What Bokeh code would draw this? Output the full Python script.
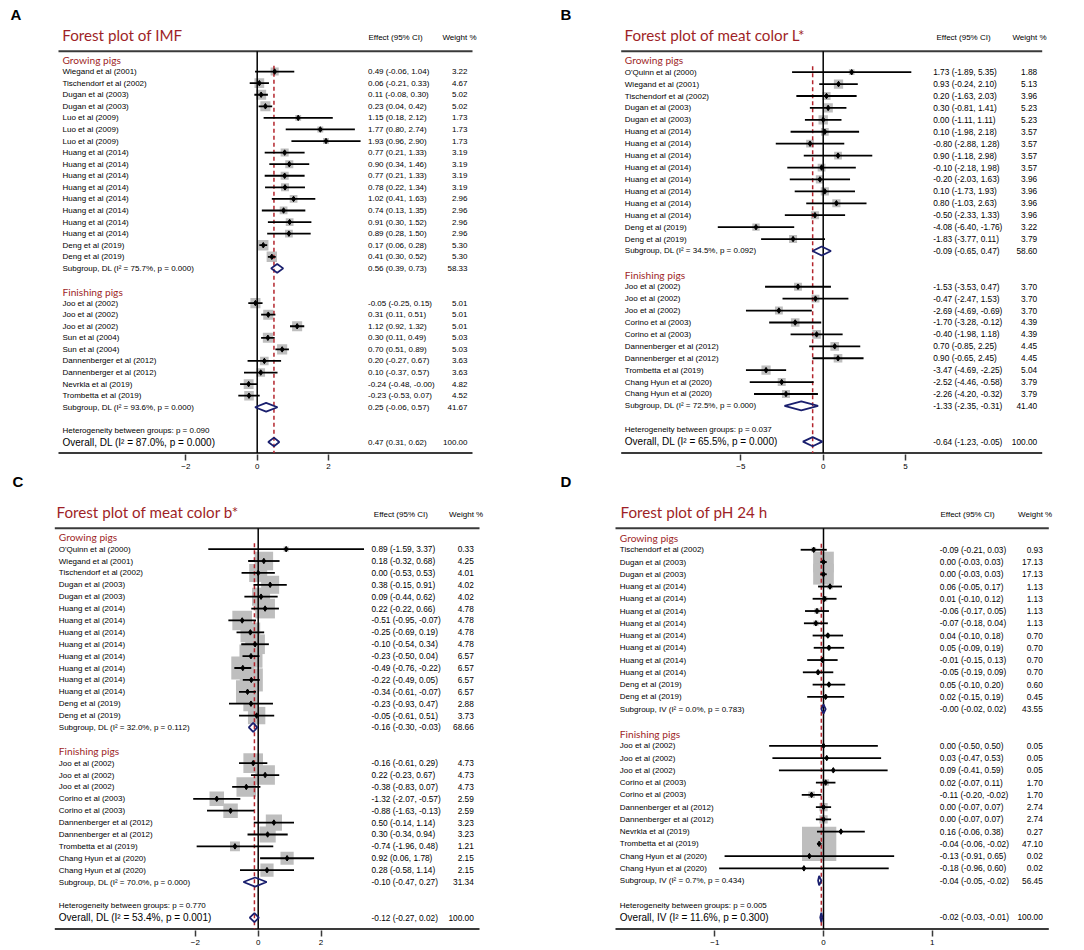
import math
from bokeh.plotting import figure
from bokeh.models import Range1d, FixedTicker, ColumnDataSource
from bokeh.layouts import column, row
from bokeh.embed import file_html
from bokeh.resources import INLINE
from bokeh.core.properties import value

G, F = "Growing pigs", "Finishing pigs"

# ---------------- Panel A : IMF ----------------
A_study = ["Wiegand et al (2001)", "Tischendorf et al (2002)", "Dugan et al (2003)", "Dugan et al (2003)",
           "Luo et al (2009)", "Luo et al (2009)", "Luo et al (2009)",
           "Huang et al (2014)", "Huang et al (2014)", "Huang et al (2014)", "Huang et al (2014)",
           "Huang et al (2014)", "Huang et al (2014)", "Huang et al (2014)", "Huang et al (2014)",
           "Deng et al (2019)", "Deng et al (2019)",
           "Joo et al (2002)", "Joo et al (2002)", "Joo et al (2002)", "Sun et al (2004)", "Sun et al (2004)",
           "Dannenberger et al (2012)", "Dannenberger et al (2012)", "Nevrkla et al (2019)", "Trombetta et al (2019)"]
A_group = [G] * 17 + [F] * 9
A_est = [0.49, 0.06, 0.11, 0.23, 1.15, 1.77, 1.93, 0.77, 0.90, 0.77, 0.78, 1.02, 0.74, 0.91, 0.89, 0.17, 0.41,
         -0.05, 0.31, 1.12, 0.30, 0.70, 0.20, 0.10, -0.24, -0.23]
A_lo = [-0.06, -0.21, -0.08, 0.04, 0.18, 0.80, 0.96, 0.21, 0.34, 0.21, 0.22, 0.41, 0.13, 0.30, 0.28, 0.06, 0.30,
        -0.25, 0.11, 0.92, 0.11, 0.51, -0.27, -0.37, -0.48, -0.53]
A_hi = [1.04, 0.33, 0.30, 0.42, 2.12, 2.74, 2.90, 1.33, 1.46, 1.33, 1.34, 1.63, 1.35, 1.52, 1.50, 0.28, 0.52,
        0.15, 0.51, 1.32, 0.49, 0.89, 0.67, 0.57, -0.00, 0.07]
A_wt = [3.22, 4.67, 5.02, 5.02, 1.73, 1.73, 1.73, 3.19, 3.19, 3.19, 3.19, 2.96, 2.96, 2.96, 2.96, 5.30, 5.30,
        5.01, 5.01, 5.01, 5.03, 5.03, 3.63, 3.63, 4.82, 4.52]
A_sub_est = [0.56, 0.25]
A_sub_lo = [0.39, -0.06]
A_sub_hi = [0.73, 0.57]
A_sub_wt = [58.33, 41.67]
A_sub_i2 = [75.7, 93.6]
A_sub_p = ["0.000", "0.000"]
A_all = [0.47, 0.31, 0.62]
A_all_i2 = 87.0
A_all_p = "0.000"
A_het_p = "0.090"
A_method = "DL"
A_ticks = [-2, 0, 2]

# ---------------- Panel B : meat color L* ----------------
B_study = ["O'Quinn et al (2000)", "Wiegand et al (2001)", "Tischendorf et al (2002)", "Dugan et al (2003)",
           "Dugan et al (2003)", "Huang et al (2014)", "Huang et al (2014)", "Huang et al (2014)",
           "Huang et al (2014)", "Huang et al (2014)", "Huang et al (2014)", "Huang et al (2014)",
           "Huang et al (2014)", "Deng et al (2019)", "Deng et al (2019)",
           "Joo et al (2002)", "Joo et al (2002)", "Joo et al (2002)", "Corino et al (2003)", "Corino et al (2003)",
           "Dannenberger et al (2012)", "Dannenberger et al (2012)", "Trombetta et al (2019)",
           "Chang Hyun et al (2020)", "Chang Hyun et al (2020)"]
B_group = [G] * 15 + [F] * 10
B_est = [1.73, 0.93, 0.20, 0.30, 0.00, 0.10, -0.80, 0.90, -0.10, -0.20, 0.10, 0.80, -0.50, -4.08, -1.83,
         -1.53, -0.47, -2.69, -1.70, -0.40, 0.70, 0.90, -3.47, -2.52, -2.26]
B_lo = [-1.89, -0.24, -1.63, -0.81, -1.11, -1.98, -2.88, -1.18, -2.18, -2.03, -1.73, -1.03, -2.33, -6.40, -3.77,
        -3.53, -2.47, -4.69, -3.28, -1.98, -0.85, -0.65, -4.69, -4.46, -4.20]
B_hi = [5.35, 2.10, 2.03, 1.41, 1.11, 2.18, 1.28, 2.98, 1.98, 1.63, 1.93, 2.63, 1.33, -1.76, 0.11,
        0.47, 1.53, -0.69, -0.12, 1.18, 2.25, 2.45, -2.25, -0.58, -0.32]
B_wt = [1.88, 5.13, 3.96, 5.23, 5.23, 3.57, 3.57, 3.57, 3.57, 3.96, 3.96, 3.96, 3.96, 3.22, 3.79,
        3.70, 3.70, 3.70, 4.39, 4.39, 4.45, 4.45, 5.04, 3.79, 3.79]
B_sub_est = [-0.09, -1.33]
B_sub_lo = [-0.65, -2.35]
B_sub_hi = [0.47, -0.31]
B_sub_wt = [58.60, 41.40]
B_sub_i2 = [34.5, 72.5]
B_sub_p = ["0.092", "0.000"]
B_all = [-0.64, -1.23, -0.05]
B_all_i2 = 65.5
B_all_p = "0.000"
B_het_p = "0.037"
B_method = "DL"
B_ticks = [-5, 0, 5]

# ---------------- Panel C : meat color b* ----------------
C_study = ["O'Quinn et al (2000)", "Wiegand et al (2001)", "Tischendorf et al (2002)", "Dugan et al (2003)",
           "Dugan et al (2003)", "Huang et al (2014)", "Huang et al (2014)", "Huang et al (2014)",
           "Huang et al (2014)", "Huang et al (2014)", "Huang et al (2014)", "Huang et al (2014)",
           "Huang et al (2014)", "Deng et al (2019)", "Deng et al (2019)",
           "Joo et al (2002)", "Joo et al (2002)", "Joo et al (2002)", "Corino et al (2003)", "Corino et al (2003)",
           "Dannenberger et al (2012)", "Dannenberger et al (2012)", "Trombetta et al (2019)",
           "Chang Hyun et al (2020)", "Chang Hyun et al (2020)"]
C_group = [G] * 15 + [F] * 10
C_est = [0.89, 0.18, 0.00, 0.38, 0.09, 0.22, -0.51, -0.25, -0.10, -0.23, -0.49, -0.22, -0.34, -0.23, -0.05,
         -0.16, 0.22, -0.38, -1.32, -0.88, 0.50, 0.30, -0.74, 0.92, 0.28]
C_lo = [-1.59, -0.32, -0.53, -0.15, -0.44, -0.22, -0.95, -0.69, -0.54, -0.50, -0.76, -0.49, -0.61, -0.93, -0.61,
        -0.61, -0.23, -0.83, -2.07, -1.63, -0.14, -0.34, -1.96, 0.06, -0.58]
C_hi = [3.37, 0.68, 0.53, 0.91, 0.62, 0.66, -0.07, 0.19, 0.34, 0.04, -0.22, 0.05, -0.07, 0.47, 0.51,
        0.29, 0.67, 0.07, -0.57, -0.13, 1.14, 0.94, 0.48, 1.78, 1.14]
C_wt = [0.33, 4.25, 4.01, 4.02, 4.02, 4.78, 4.78, 4.78, 4.78, 6.57, 6.57, 6.57, 6.57, 2.88, 3.73,
        4.73, 4.73, 4.73, 2.59, 2.59, 3.23, 3.23, 1.21, 2.15, 2.15]
C_sub_est = [-0.16, -0.10]
C_sub_lo = [-0.30, -0.47]
C_sub_hi = [-0.03, 0.27]
C_sub_wt = [68.66, 31.34]
C_sub_i2 = [32.0, 70.0]
C_sub_p = ["0.112", "0.000"]
C_all = [-0.12, -0.27, 0.02]
C_all_i2 = 53.4
C_all_p = "0.001"
C_het_p = "0.770"
C_method = "DL"
C_ticks = [-2, 0, 2]

# ---------------- Panel D : pH 24 h ----------------
D_study = ["Tischendorf et al (2002)", "Dugan et al (2003)", "Dugan et al (2003)",
           "Huang et al (2014)", "Huang et al (2014)", "Huang et al (2014)", "Huang et al (2014)",
           "Huang et al (2014)", "Huang et al (2014)", "Huang et al (2014)", "Huang et al (2014)",
           "Deng et al (2019)", "Deng et al (2019)",
           "Joo et al (2002)", "Joo et al (2002)", "Joo et al (2002)", "Corino et al (2003)", "Corino et al (2003)",
           "Dannenberger et al (2012)", "Dannenberger et al (2012)", "Nevrkla et al (2019)",
           "Trombetta et al (2019)", "Chang Hyun et al (2020)", "Chang Hyun et al (2020)"]
D_group = [G] * 13 + [F] * 11
D_est = [-0.09, 0.00, 0.00, 0.06, 0.01, -0.06, -0.07, 0.04, 0.05, -0.01, -0.05, 0.05, 0.02,
         0.00, 0.03, 0.09, 0.02, -0.11, 0.00, 0.00, 0.16, -0.04, -0.13, -0.18]
D_lo = [-0.21, -0.03, -0.03, -0.05, -0.10, -0.17, -0.18, -0.10, -0.09, -0.15, -0.19, -0.10, -0.15,
        -0.50, -0.47, -0.41, -0.07, -0.20, -0.07, -0.07, -0.06, -0.06, -0.91, -0.96]
D_hi = [0.03, 0.03, 0.03, 0.17, 0.12, 0.05, 0.04, 0.18, 0.19, 0.13, 0.09, 0.20, 0.19,
        0.50, 0.53, 0.59, 0.11, -0.02, 0.07, 0.07, 0.38, -0.02, 0.65, 0.60]
D_wt = [0.93, 17.13, 17.13, 1.13, 1.13, 1.13, 1.13, 0.70, 0.70, 0.70, 0.70, 0.60, 0.45,
        0.05, 0.05, 0.05, 1.70, 1.70, 2.74, 2.74, 0.27, 47.10, 0.02, 0.02]
D_sub_est = [-0.00, -0.04]
D_sub_lo = [-0.02, -0.05]
D_sub_hi = [0.02, -0.02]
D_sub_wt = [43.55, 56.45]
D_sub_i2 = [0.0, 0.7]
D_sub_p = ["0.783", "0.434"]
D_all = [-0.02, -0.03, -0.01]
D_all_i2 = 11.6
D_all_p = "0.300"
D_het_p = "0.005"
D_method = "IV"
D_ticks = [-1, 0, 1]

# ---------------- styles ----------------
RED = "#9E1F27"
NAVY = "#1A1F6E"
BOX = "#BEBEBE"
AXC = "#3A3A3A"
SANS = "Liberation Sans"
HUM = "Lato"


def fmt(e, lo, hi):
    return f"{e:.2f} ({lo:.2f}, {hi:.2f})"


def build(letter, title, d, geo):
    W, H = 542, geo["H"]
    fb = 20
    fh = H - fb
    tl = geo["tl"]
    bl = fh - 1.5
    groups = [G, F]

    study_rows, hdr_rows, sub_rows = [], [], []
    r = 0
    for g in groups:
        hdr_rows.append(r)
        r += 1
        for gg in d["group"]:
            if gg == g:
                study_rows.append(r)
                r += 1
        sub_rows.append(r)
        r += 2
    het_row, all_row = r, r + 1

    top_row = -0.76
    bot_row = all_row + 0.95
    s = (bl - tl) / (bot_row - top_row)
    row0 = tl - top_row * s

    def py(local):
        return (local - row0) / s

    zx, u = geo["zx"], geo["u"]
    p = figure(width=W, height=H,
               x_range=Range1d((0 - zx) / u, (W - zx) / u),
               y_range=Range1d(py(fh), py(0)),
               min_border_left=0, min_border_right=0, min_border_top=0, min_border_bottom=fb,
               toolbar_location=None, output_backend="svg", y_axis_location=None)
    p.extra_x_ranges = {"px": Range1d(0, W)}
    p.xgrid.visible = False
    p.ygrid.visible = False
    p.outline_line_color = None
    p.background_fill_color = "white"

    ax = p.xaxis[0]
    ax.ticker = FixedTicker(ticks=d["ticks"])
    ax.axis_line_color = None
    ax.major_tick_line_color = AXC
    ax.major_tick_line_width = 1.5
    ax.major_tick_out = 6
    ax.major_tick_in = 0
    ax.minor_tick_line_color = None
    ax.major_label_text_font = SANS
    ax.major_label_text_font_size = "8px"
    ax.major_label_text_color = "black"
    ax.major_label_standoff = 3

    # frame lines (top rule and bottom axis rule)
    lx0, lx1 = geo["line"]
    p.segment(x0=[lx0, lx0], y0=[top_row, bot_row], x1=[lx1, lx1], y1=[top_row, bot_row],
              line_color=AXC, line_width=2, x_range_name="px")

    # boxes
    k = geo["box_k"]
    src = ColumnDataSource(dict(y=study_rows, est=d["est"], lo=d["lo"], hi=d["hi"],
                                sz=[k * math.sqrt(w) for w in d["wt"]]))
    p.scatter(x="est", y="y", size="sz", marker="square", source=src,
              fill_color=BOX, line_color=None)

    # no-effect line and overall line
    p.segment(x0=[0], y0=[top_row], x1=[0], y1=[bot_row], line_color="black", line_width=1.5)
    p.segment(x0=[d["all"][0]], y0=[0.5], x1=[d["all"][0]], y1=[bot_row],
              line_color="#B3242C", line_width=1.5, line_dash="4 3")

    # CIs and point estimates
    p.segment(x0="lo", y0="y", x1="hi", y1="y", source=src, line_color="black", line_width=1.8)
    p.scatter(x="est", y="y", size=5.5, marker="diamond", source=src,
              fill_color="black", line_color="black")

    # pooled diamonds
    h = 0.38
    dx, dy = [], []
    for e, lo, hi, rr in zip(d["sub_est"] + [d["all"][0]], d["sub_lo"] + [d["all"][1]],
                             d["sub_hi"] + [d["all"][2]], sub_rows + [all_row]):
        dx.append([lo, e, hi, e])
        dy.append([rr, rr - h, rr, rr + h])
    p.patches(xs=dx, ys=dy, fill_color="white", fill_alpha=0.0, line_color=NAVY, line_width=1.8)

    # ---------- texts ----------
    def txt(xs, ys, ts, font, size, color="black", align="left", style="normal"):
        p.text(x=xs, y=ys, text=ts, x_range_name="px", text_font=value(font), text_font_size=size,
               text_color=color, text_align=align, text_baseline="middle", text_font_style=style)

    txt([geo["letter_x"]], [py(geo["letter_y"])], [letter], SANS, "15px", style="bold")
    txt([geo["title_x"]], [py(tl - 16)], [title], HUM, "15.2px", color=RED)
    txt([geo["hdr_eff_x"]], [py(tl - 14)], ["Effect (95% CI)"], SANS, "8px")
    txt([geo["hdr_wt_r"]], [py(tl - 14)], ["Weight %"], SANS, "8px", align="right")
    txt([geo["study_x"]] * 2, hdr_rows, groups, HUM, "10.2px", color=RED)

    labels = list(d["study"])
    lrows = list(study_rows)
    for i in range(2):
        labels.append(f"Subgroup, {d['method']} (I\u00b2 = {d['sub_i2'][i]:.1f}%, p = {d['sub_p'][i]})")
        lrows.append(sub_rows[i])
    labels.append(f"Heterogeneity between groups: p = {d['het_p']}")
    lrows.append(het_row)
    txt([geo["study_x"]] * len(labels), lrows, labels, SANS, "8px")
    txt([geo["study_x"]], [all_row],
        [f"Overall, {d['method']} (I\u00b2 = {d['all_i2']:.1f}%, p = {d['all_p']})"], SANS, "10px")

    effs = [fmt(e, lo, hi) for e, lo, hi in zip(d["est"], d["lo"], d["hi"])]
    effs += [fmt(e, lo, hi) for e, lo, hi in zip(d["sub_est"], d["sub_lo"], d["sub_hi"])]
    effs += [fmt(*d["all"])]
    wts = [f"{w:.2f}" for w in d["wt"]] + [f"{w:.2f}" for w in d["sub_wt"]] + ["100.00"]
    erows = study_rows + sub_rows + [all_row]
    txt([geo["eff_x"]] * len(effs), erows, effs, SANS, geo["fs"])
    txt([geo["wt_r"]] * len(wts), erows, wts, SANS, geo["fs"], align="right")
    return p


def pack(study, group, est, lo, hi, wt, sub_est, sub_lo, sub_hi, sub_wt, sub_i2, sub_p,
         all_, all_i2, all_p, het_p, method, ticks):
    return dict(study=study, group=group, est=est, lo=lo, hi=hi, wt=wt, sub_est=sub_est,
                sub_lo=sub_lo, sub_hi=sub_hi, sub_wt=sub_wt, sub_i2=sub_i2, sub_p=sub_p,
                all=all_, all_i2=all_i2, all_p=all_p, het_p=het_p, method=method, ticks=ticks)


geoA = dict(H=474, tl=50.7, zx=256.7, u=35.65, line=(58, 472), study_x=62, eff_x=367.5, wt_r=467,
            title_x=61.7, hdr_eff_x=368, hdr_wt_r=476, letter_x=10, letter_y=13.5, box_k=4.5, fs="8px")
geoB = dict(H=474, tl=50.7, zx=280.7, u=16.47, line=(78.7, 499.7), study_x=82.3, eff_x=390.7, wt_r=494.7,
            title_x=82, hdr_eff_x=394, hdr_wt_r=504, letter_x=18, letter_y=13.5, box_k=4.1, fs="8.3px")
geoC = dict(H=476, tl=53.7, zx=257.7, u=31.4, line=(54.3, 479), study_x=58.3, eff_x=371, wt_r=473.3,
            title_x=56, hdr_eff_x=373.3, hdr_wt_r=482.7, letter_x=12, letter_y=7, box_k=9, fs="8.3px")
geoD = dict(H=476, tl=53.7, zx=281, u=108.7, line=(73, 506.3), study_x=77.3, eff_x=397.3, wt_r=500.3,
            title_x=78, hdr_eff_x=398, hdr_wt_r=509.7, letter_x=18, letter_y=7, box_k=5, fs="8.3px")

pA = build("A", "Forest plot of IMF",
           pack(A_study, A_group, A_est, A_lo, A_hi, A_wt, A_sub_est, A_sub_lo, A_sub_hi, A_sub_wt,
                A_sub_i2, A_sub_p, A_all, A_all_i2, A_all_p, A_het_p, A_method, A_ticks), geoA)
pB = build("B", "Forest plot of meat color L*",
           pack(B_study, B_group, B_est, B_lo, B_hi, B_wt, B_sub_est, B_sub_lo, B_sub_hi, B_sub_wt,
                B_sub_i2, B_sub_p, B_all, B_all_i2, B_all_p, B_het_p, B_method, B_ticks), geoB)
pC = build("C", "Forest plot of meat color b*",
           pack(C_study, C_group, C_est, C_lo, C_hi, C_wt, C_sub_est, C_sub_lo, C_sub_hi, C_sub_wt,
                C_sub_i2, C_sub_p, C_all, C_all_i2, C_all_p, C_het_p, C_method, C_ticks), geoC)
pD = build("D", "Forest plot of pH 24 h",
           pack(D_study, D_group, D_est, D_lo, D_hi, D_wt, D_sub_est, D_sub_lo, D_sub_hi, D_sub_wt,
                D_sub_i2, D_sub_p, D_all, D_all_i2, D_all_p, D_het_p, D_method, D_ticks), geoD)

layout = column(row(pA, pB), row(pC, pD))
open("out.html", "w").write(file_html(layout, INLINE))
